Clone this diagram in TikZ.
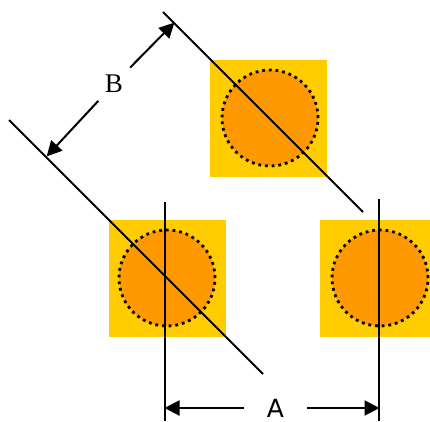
\documentclass[tikz,border=0pt]{standalone}
\usepackage{fontspec}
\usepackage{tikz}
\usetikzlibrary{arrows.meta}
\setmainfont{Liberation Serif}
\newfontfamily\labelsans{DejaVu Sans}
\definecolor{padyellow}{HTML}{FFCC00}
\definecolor{holeorange}{HTML}{FF9900}
\tikzset{every picture/.style={line width=2pt}}

\begin{document}
\begin{tikzpicture}[x=1pt,y=-1pt,
pad/.style={fill=padyellow,draw=none,minimum size=117pt,inner sep=0pt},
hole/.style={circle,fill=holeorange,draw=black,dash pattern=on 2.8pt off 3.9pt,line width=2.8pt,minimum size=96pt,inner sep=0pt},
dim/.style={-{Triangle[length=15pt,width=15pt]},shorten >=-0.5pt}]
\useasboundingbox (0,0) rectangle (430,421);
% pads with their holes
\node[pad] (padtop) at (268.5,118.5) {};
\node[pad] (padleft) at (167.5,278.5) {};
\begin{scope}
\clip (300,200) rectangle (430,350);
\node[pad] (padright) at (378.5,278.5) {};
\end{scope}
\node[hole] (holetop) at (270,118) {};
\node[hole] (holeleft) at (167,278) {};
\node[hole] (holeright) at (380,278) {};
% extension lines
\coordinate (diagtopa) at (163,12);
\coordinate (diagtopb) at (363,212);
\coordinate (diaglefta) at (9,120);
\coordinate (diagleftb) at (263,374);
\coordinate (verta) at (165,202);
\coordinate (vertab) at (165,421);
\coordinate (vertb) at (379,199);
\coordinate (vertbb) at (379,421);
\draw (diagtopa) -- (diagtopb);
\draw (diaglefta) -- (diagleftb);
\draw (verta) -- (vertab);
\draw (vertb) -- (vertbb);
% dimensions
\coordinate (arrowal) at (165,408);
\coordinate (arrowar) at (379,408);
\coordinate (arrowbt) at (174,23);
\coordinate (arrowbb) at (47,156);
\node[minimum width=61pt,inner sep=0pt,font=\labelsans\fontsize{25}{25}\selectfont] (labela) at (275.5,408) {A};
\node[circle,minimum size=44pt,inner sep=0pt,font=\fontsize{27}{27}\selectfont] (labelb) at (114,84) {B};
\draw[dim] (labela) -- (arrowal);
\draw[dim] (labela) -- (arrowar);
\draw[dim] (labelb) -- (arrowbt);
\draw[dim] (labelb) -- (arrowbb);
\end{tikzpicture}
\end{document}
